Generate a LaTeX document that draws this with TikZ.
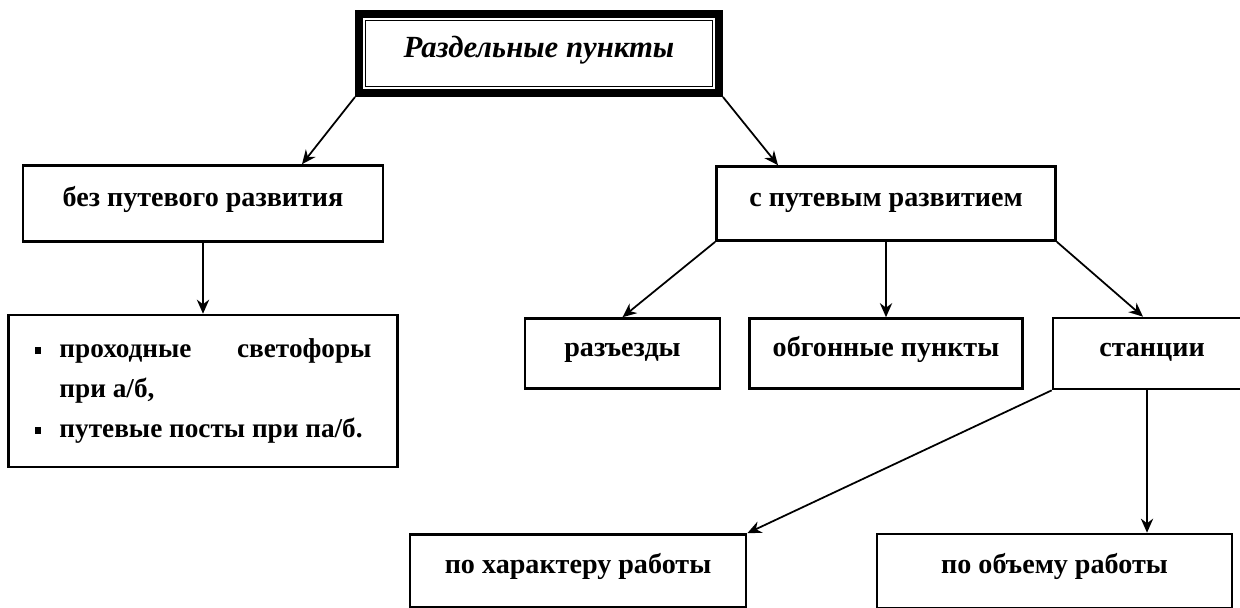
\documentclass[tikz,border=0pt]{standalone}
\usepackage{fontspec}
\setmainfont{Liberation Serif}
\usetikzlibrary{shapes.geometric, arrows.meta}
\tikzstyle{titlebox} = [rectangle, minimum width=7.2cm, minimum height=1.58cm, text centered, draw=black, line width=4.5pt, text height=11pt, text depth=7pt, font=\bfseries\itshape\fontsize{17.5}{20}\selectfont]
\tikzstyle{box} = [rectangle, minimum height=1.45cm, text centered, draw=black, line width=1.5pt, fill=white, text height=10pt, text depth=7pt, font=\bfseries\fontsize{16}{19}\selectfont]
\tikzstyle{listbox} = [box, minimum width=7.78cm, minimum height=2.94cm, text width=6.74cm, align=justify, inner ysep=1.5pt, text height=, text depth=, font=\bfseries\fontsize{15.5}{22.7}\selectfont]
\tikzstyle{arrow} = [line width=1pt,->,>={Stealth[length=8pt,width=7pt]}]
\newcommand{\bulitem}[1]{\par\noindent\hangindent=0.5cm\hangafter=1\makebox[0.5cm][l]{\rule[2pt]{3.8pt}{3.8pt}}#1\par}

\begin{document}
\begin{tikzpicture}[node distance=3cm]
\useasboundingbox (0,0) rectangle (24.8,-12.14);

\node (title) [titlebox] at (10.78,-1.07) {Раздельные пункты};
\node (bez) [box, below of=title, xshift=-6.72cm, minimum width=7.2cm, minimum height=1.52cm] {без путевого развития};
\node (spu) [box, below of=title, xshift=6.94cm, minimum width=6.78cm, minimum height=1.48cm] {с путевым развитием};
\node (list) [listbox, below of=bez, yshift=-0.75cm] {\sloppy\hyphenpenalty=10000
  \bulitem{проходные светофоры\linebreak при а/б,}
  \bulitem{путевые посты при па/б.}
  \nointerlineskip\vbox to 12pt{}};
\node (razd) [box, below of=spu, xshift=-5.27cm, minimum width=3.9cm, minimum height=1.4cm] {разъезды};
\node (obg) [box, below of=spu, minimum width=5.46cm, minimum height=1.4cm] {обгонные пункты};
\node (stan) [box, below of=spu, xshift=5.32cm, minimum width=3.96cm, minimum height=1.42cm] {станции};
\node (har) [box, below of=stan, yshift=-1.35cm, xshift=-11.48cm, minimum width=6.72cm, minimum height=1.46cm] {по характеру работы};
\node (obj) [box, below of=stan, yshift=-1.35cm, xshift=-1.95cm, minimum width=7.1cm, minimum height=1.48cm] {по объему работы};

% inner frame of the title
\draw [line width=1pt] ([shift={(0.21cm,-0.21cm)}]title.north west) rectangle ([shift={(-0.21cm,0.21cm)}]title.south east);

\draw [arrow] (title.south west) -- ([xshift=1.98cm]bez.north);
\draw [arrow] (title.south east) -- ([xshift=-2.16cm]spu.north);
\draw [arrow] (bez) -- (list);
\draw [arrow] (spu.south west) -- (razd.north);
\draw [arrow] (spu) -- (obg);
\draw [arrow] (spu.south east) -- ([xshift=-0.18cm]stan.north);
\draw [arrow] (stan.south west) -- (har.north east);
\draw [arrow] ([xshift=-0.1cm]stan.south) -- ([xshift=-0.1cm]stan.south |- obj.north);

\end{tikzpicture}
\end{document}
